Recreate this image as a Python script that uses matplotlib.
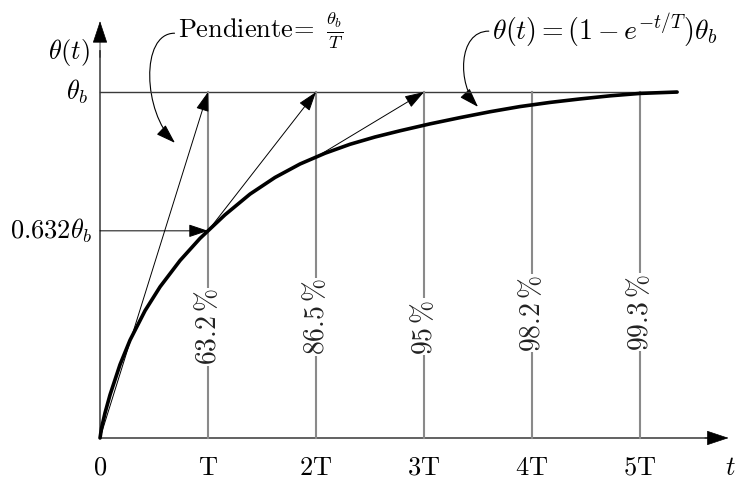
import numpy as np
import matplotlib.pyplot as plt
from matplotlib.patches import FancyArrowPatch
from matplotlib.path import Path

plt.rcParams['mathtext.fontset'] = 'cm'
plt.rcParams['font.family'] = 'serif'
plt.rcParams['font.serif'] = ['DejaVu Serif']

# step response theta(t)/theta_b, t measured in time constants T
t_curve = [0, 0.015, 0.046, 0.093, 0.185, 0.278, 0.417, 0.556, 0.741, 0.926,
           1.157, 1.389, 1.620, 1.852, 2.083, 2.315, 2.546, 2.778, 3.056,
           3.333, 3.611, 3.889, 4.167, 4.444, 4.722, 5.0, 5.343]
theta_curve = [0, 0.030, 0.072, 0.125, 0.212, 0.283, 0.368, 0.437, 0.513, 0.577,
               0.645, 0.705, 0.753, 0.792, 0.823, 0.849, 0.870, 0.888, 0.908,
               0.926, 0.943, 0.958, 0.970, 0.980, 0.989, 0.996, 1.0]

periods = [1, 2, 3, 4, 5]
period_labels = ['T', '2T', '3T', '4T', '5T']
percents = ['63.2', '86.5', '95', '98.2', '99.3']

theta_T = np.interp(1, t_curve, theta_curve)
theta_2T = np.interp(2, t_curve, theta_curve)

fs = 19
gray = '#8a8a8a'
dark = '#3a3a3a'
head = '-|>,head_length=0.6,head_width=0.2'

fig = plt.figure(figsize=(7.38, 4.84), dpi=100)
ax = fig.add_axes([0, 0, 1, 1])
ax.set_xlim(-0.926, 5.907)
ax.set_ylim(-0.133, 1.266)
ax.axis('off')


def arrow(x0, y0, x1, y1, lw=0.7, color='black', scale=20):
    ax.annotate('', xy=(x1, y1), xytext=(x0, y0),
                arrowprops=dict(arrowstyle=head, mutation_scale=scale, lw=lw,
                                color=color, shrinkA=0, shrinkB=0))


def curved_arrow(p0, c1, c2, p1):
    path = Path([p0, c1, c2, p1], [Path.MOVETO, Path.CURVE4, Path.CURVE4, Path.CURVE4])
    ax.add_patch(FancyArrowPatch(path=path, arrowstyle=head, mutation_scale=20,
                                 lw=0.8, color='black', shrinkA=0, shrinkB=0))


# axes: gray lines, black heads
ax.plot([0, 5.7], [0, 0], color='#555555', lw=1.3)
ax.plot([0, 0], [0, 1.12], color='#555555', lw=1.3)
arrow(5.6, 0, 5.82, 0, lw=0.5, scale=24)
arrow(0, 1.1, 0, 1.205, lw=0.5, scale=24)

# level theta_b and the time-constant markers
ax.plot([0, 5.34], [1, 1], color=dark, lw=1.0)
for p, lab, pc, yp in zip(periods, period_labels, percents,
                          [0.321, 0.350, 0.321, 0.361, 0.364]):
    ax.plot([p, p], [0, 1], color=gray, lw=1.5)
    ax.text(p, yp, r'$%s\,\%%$' % pc, rotation=90, ha='center', va='center',
            fontsize=20, color='#222222',
            bbox=dict(facecolor='white', edgecolor='none', pad=0.5))
    ax.text(p, -0.084, r'$\mathrm{%s}$' % lab, ha='center', va='center', fontsize=fs)

ax.text(0, -0.084, r'$0$', ha='center', va='center', fontsize=fs)
ax.text(5.84, -0.084, r'$t$', ha='center', va='center', fontsize=fs)

# the response curve
ax.plot(t_curve, theta_curve, color='black', lw=2.6,
        solid_capstyle='round', solid_joinstyle='round')

# tangent lines with slope theta_b / T
arrow(0, 0, 1, 1)
arrow(1, theta_T, 2, 1)
arrow(2, theta_2T, 3, 1)
arrow(0, theta_T, 1, theta_T)

# y labels
ax.text(-0.287, 1.113, r'$\theta(t)$', ha='center', va='center', fontsize=fs)
ax.text(-0.11, 1.0, r'$\theta_b$', ha='right', va='center', fontsize=fs)
ax.text(-0.074, theta_T, r'$0.632\theta_b$', ha='right', va='center', fontsize=fs)

# annotations
ax.text(0.72, 1.179, r'$\mathrm{Pendiente}\!=\ \frac{\theta_b}{T}$',
        ha='left', va='center', fontsize=fs)
curved_arrow((0.69, 1.17), (0.37, 1.17), (0.40, 0.94), (0.694, 0.853))

ax.text(3.63, 1.176, r'$\theta(t) = (1 - e^{-t/T})\theta_b$',
        ha='left', va='center', fontsize=20)
curved_arrow((3.60, 1.176), (3.31, 1.176), (3.31, 1.02), (3.50, 0.957))

fig.savefig('out.png', dpi=100)
